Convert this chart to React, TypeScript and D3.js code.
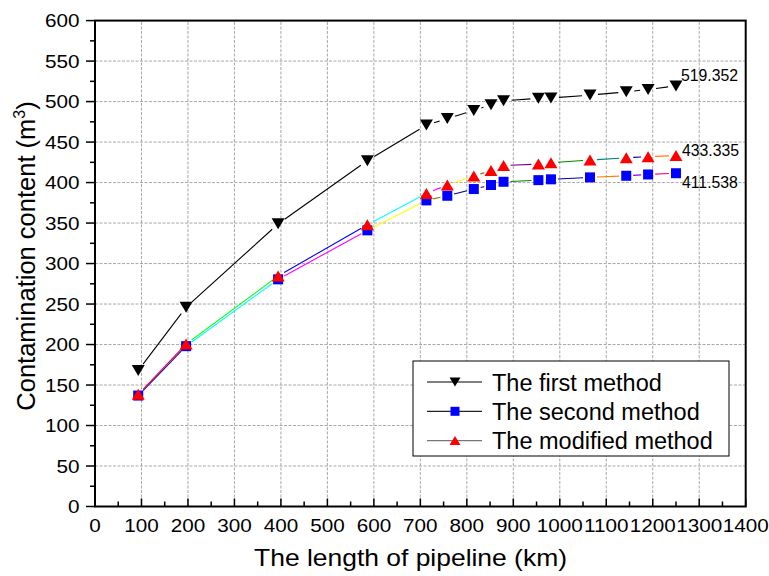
import React from "react";
import * as d3 from "d3";

const lengths = [93, 196, 394, 586, 713, 758, 815, 852, 879, 954, 981, 1065, 1143, 1190, 1250];
const firstMethod = [168, 246, 349, 427, 471, 479, 489, 496, 501, 504, 504.5, 508, 512, 515, 519.352];
const secondMethod = [137, 198, 280.5, 341, 378, 383.7, 392, 397, 401, 403, 404, 406.4, 408.4, 410, 411.538];
const modifiedMethod = [138.5, 200.6, 284.6, 348, 386.5, 397, 408, 415, 421, 422.8, 424.5, 427.8, 430.6, 432, 433.335];
const originPalette = ["#000000", "#FF0000", "#00FF00", "#0000FF", "#00FFFF", "#FF00FF", "#FFFF00", "#808000", "#000080", "#800080", "#800000", "#008000", "#008080", "#0000A0", "#FF8000", "#8000FF", "#FF0080"];
const xTicks = d3.range(0, 1401, 100);
const yTicks = d3.range(0, 601, 50);
const legendLabels = ["The first method", "The second method", "The modified method"];
const endLabels = ["519.352", "411.538", "433.335"];

const W = 769, H = 576;
const x = d3.scaleLinear().domain([0, 1400]).range([95, 745.7]);
const y = d3.scaleLinear().domain([0, 600]).range([506.5, 20.6]);

function DownTri({ cx, cy, w = 13, h = 11, fill = "#000" }: any) {
  return <path d={`M${cx - w / 2},${cy - h / 2}L${cx + w / 2},${cy - h / 2}L${cx},${cy + h / 2}Z`} fill={fill} />;
}
function UpTri({ cx, cy, w = 13, h = 11, fill = "#f00" }: any) {
  return <path d={`M${cx - w / 2},${cy + h / 2}L${cx + w / 2},${cy + h / 2}L${cx},${cy - h / 2}Z`} fill={fill} />;
}
function Square({ cx, cy, s = 10, fill = "#00f" }: any) {
  return <rect x={cx - s / 2} y={cy - s / 2} width={s} height={s} fill={fill} />;
}

function segments(vals: number[], colorStart: number | null, gap: number) {
  const out: any[] = [];
  for (let i = 0; i < vals.length - 1; i++) {
    const x1 = x(lengths[i]), y1 = y(vals[i]);
    const x2 = x(lengths[i + 1]), y2 = y(vals[i + 1]);
    const dx = x2 - x1, dy = y2 - y1;
    const L = Math.hypot(dx, dy);
    if (L <= 2 * gap) continue;
    const ux = dx / L, uy = dy / L;
    const color = colorStart === null ? "#000" : originPalette[(colorStart + i) % originPalette.length];
    out.push(
      <line key={i} x1={x1 + ux * gap} y1={y1 + uy * gap} x2={x2 - ux * gap} y2={y2 - uy * gap} stroke={color} strokeWidth={1.1} />
    );
  }
  return out;
}

export default function App() {
  const sx = 1.15;
  const font = "'Liberation Sans', Arial, sans-serif";
  const minorX = d3.range(50, 1400, 100);
  const minorY = d3.range(25, 600, 50);
  const n = lengths.length - 1;
  return (
    <svg width={W} height={H} style={{ position: "absolute", left: 0, top: 0, background: "#fff" }} fontFamily={font}>
      <rect x={0} y={0} width={W} height={H} fill="#fff" />
      {/* grid */}
      {xTicks.slice(1, -1).map((t) => (
        <line key={"gx" + t} x1={x(t)} x2={x(t)} y1={y(0)} y2={y(600)} stroke="#a8a8a8" strokeWidth={1} strokeDasharray="3,1.5" />
      ))}
      {yTicks.slice(1, -1).map((t) => (
        <line key={"gy" + t} x1={x(0)} x2={x(1400)} y1={y(t)} y2={y(t)} stroke="#a8a8a8" strokeWidth={1} strokeDasharray="3,1.5" />
      ))}
      {/* series lines */}
      <g>{segments(firstMethod, null, 8)}</g>
      <g>{segments(secondMethod, 3, 7)}</g>
      <g>{segments(modifiedMethod, 1, 7)}</g>
      {/* markers */}
      {firstMethod.map((v, i) => <DownTri key={"a" + i} cx={x(lengths[i])} cy={y(v)} />)}
      {secondMethod.map((v, i) => <Square key={"b" + i} cx={x(lengths[i])} cy={y(v)} />)}
      {modifiedMethod.map((v, i) => <UpTri key={"c" + i} cx={x(lengths[i])} cy={y(v)} />)}
      {/* end labels */}
      <text x={x(lengths[n]) + 5} y={y(firstMethod[n]) - 5} fontSize={15.8} fill="#000">{endLabels[0]}</text>
      <text x={x(lengths[n]) + 6} y={y(secondMethod[n]) + 14.6} fontSize={15.8} fill="#000">{endLabels[1]}</text>
      <text x={x(lengths[n]) + 6} y={y(modifiedMethod[n]) + 0.5} fontSize={15.8} fill="#000">{endLabels[2]}</text>
      {/* axes frame */}
      <rect x={x(0)} y={y(600)} width={x(1400) - x(0)} height={y(0) - y(600)} fill="none" stroke="#000" strokeWidth={2} />
      {/* x ticks (inward) */}
      {xTicks.map((t) => (
        <line key={"xt" + t} x1={x(t)} x2={x(t)} y1={y(0)} y2={y(0) - 8} stroke="#000" strokeWidth={1.5} />
      ))}
      {minorX.map((t) => (
        <line key={"xm" + t} x1={x(t)} x2={x(t)} y1={y(0)} y2={y(0) - 5} stroke="#000" strokeWidth={1.5} />
      ))}
      {/* y ticks (outward) */}
      {yTicks.map((t) => (
        <line key={"yt" + t} x1={x(0) - 9} x2={x(0)} y1={y(t)} y2={y(t)} stroke="#000" strokeWidth={1.5} />
      ))}
      {minorY.map((t) => (
        <line key={"ym" + t} x1={x(0) - 5} x2={x(0)} y1={y(t)} y2={y(t)} stroke="#000" strokeWidth={1.5} />
      ))}
      {/* tick labels */}
      {xTicks.map((t) => (
        <text key={"xl" + t} transform={`translate(${x(t)},531.5) scale(${sx},1)`} textAnchor="middle" fontSize={18} fill="#000">{t}</text>
      ))}
      {yTicks.map((t) => (
        <text key={"yl" + t} transform={`translate(79.5,${y(t) + 6.6}) scale(${sx},1)`} textAnchor="end" fontSize={18} fill="#000">{t}</text>
      ))}
      {/* axis titles */}
      <text transform={`translate(410.5,566) scale(${sx},1)`} textAnchor="middle" fontSize={23} fill="#000">The length of pipeline (km)</text>
      <text transform={`translate(35,256) rotate(-90)`} textAnchor="middle" fontSize={25.5} fill="#000">
        Contamination content (m<tspan dy={-10} fontSize={16}>3</tspan><tspan dy={10}>)</tspan>
      </text>
      {/* legend */}
      <rect x={413} y={361} width={316} height={95} fill="#fff" stroke="#000" strokeWidth={1} />
      {legendLabels.map((lab, i) => {
        const ly = 382 + i * 29.3;
        const lc = ["#000", "#222", "#777"][i];
        return (
          <g key={"lg" + i}>
            <line x1={427} x2={482} y1={ly} y2={ly} stroke={lc} strokeWidth={1.2} />
            {i === 0 && <DownTri cx={455} cy={ly} w={11} h={9} />}
            {i === 1 && <Square cx={455} cy={ly} s={9} />}
            {i === 2 && <UpTri cx={455} cy={ly} w={11} h={9} />}
            <text x={492} y={ly + 8.5} fontSize={23.5} fill="#000">{lab}</text>
          </g>
        );
      })}
    </svg>
  );
}
